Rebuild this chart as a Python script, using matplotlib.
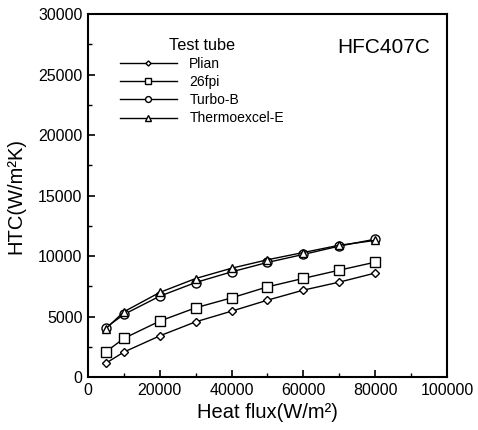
import matplotlib
matplotlib.use("Agg")
import matplotlib.pyplot as plt
from matplotlib.ticker import MultipleLocator

plt.rcParams['font.family'] = ['Liberation Sans', 'DejaVu Sans']

heat_flux = [5000, 10000, 20000, 30000, 40000, 50000, 60000, 70000, 80000]
plain = [1150, 2070, 3410, 4570, 5450, 6360, 7190, 7850, 8600]
fpi26 = [2090, 3200, 4630, 5730, 6550, 7460, 8160, 8840, 9500]
turbo_b = [4100, 5180, 6690, 7820, 8700, 9480, 10140, 10830, 11400]
thermo_e = [4000, 5400, 7000, 8150, 9000, 9700, 10300, 10900, 11300]
series_names = ['Plian', '26fpi', 'Turbo-B', 'Thermoexcel-E']
markers = ['D', 's', 'o', '^']
msizes = [4, 6.5, 6.5, 6]

fig = plt.figure(figsize=(4.78, 4.30), dpi=100)
ax = fig.add_axes([0.184, 0.123, 0.751, 0.844])

for ys, name, m, ms in zip([plain, fpi26, turbo_b, thermo_e], series_names, markers, msizes):
    ax.plot(heat_flux, ys, color='black', lw=1.0, marker=m, ms=ms,
            mfc='white', mec='black', mew=1.0, label=name)

ax.set_xlim(0, 100000)
ax.set_ylim(0, 30000)
ax.xaxis.set_major_locator(MultipleLocator(20000))
ax.xaxis.set_minor_locator(MultipleLocator(10000))
ax.yaxis.set_major_locator(MultipleLocator(5000))
ax.yaxis.set_minor_locator(MultipleLocator(2500))
ax.tick_params(which='both', direction='in', labelsize=11.5, top=False, right=False)
ax.tick_params(which='major', length=5, width=1.2, pad=4)
ax.tick_params(which='minor', length=3, width=1)
for s in ax.spines.values():
    s.set_linewidth(1.5)

ax.set_xlabel('Heat flux(W/m²)', fontsize=14.5, labelpad=4)
ax.set_ylabel('HTC(W/m²K)', fontsize=14.5, labelpad=9)

leg = ax.legend(title='Test tube', loc='upper left', bbox_to_anchor=(0.089, 0.935),
                frameon=False, fontsize=10, title_fontsize=11.7, handlelength=4.1,
                handletextpad=0.9, labelspacing=0.3, borderaxespad=0, borderpad=0,
                markerscale=0.65)
ax.text(0.953, 0.935, 'HFC407C', transform=ax.transAxes, ha='right', va='top', fontsize=15)

fig.savefig('out.png', dpi=100)
